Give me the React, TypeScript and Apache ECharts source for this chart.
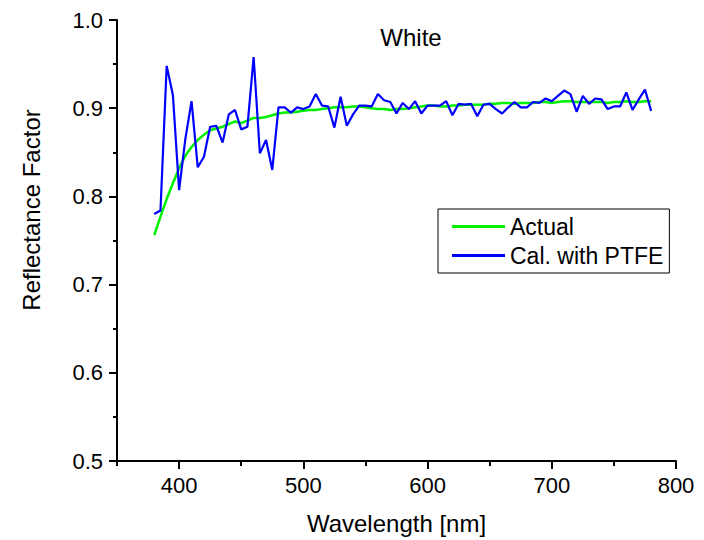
import React, { useEffect, useRef } from 'react';
import * as echarts from 'echarts';

const wavelengths = [
  380, 385, 390, 395, 400, 405, 410, 415, 420, 425, 430, 435, 440, 445, 450, 455, 460, 465, 470, 475,
  480, 485, 490, 495, 500, 505, 510, 515, 520, 525, 530, 535, 540, 545, 550, 555, 560, 565, 570, 575,
  580, 585, 590, 595, 600, 605, 610, 615, 620, 625, 630, 635, 640, 645, 650, 655, 660, 665, 670, 675,
  680, 685, 690, 695, 700, 705, 710, 715, 720, 725, 730, 735, 740, 745, 750, 755, 760, 765, 770, 775,
  780,
];

const actual = [
  0.756, 0.777, 0.797, 0.815, 0.832, 0.846, 0.856, 0.864, 0.870, 0.875, 0.877, 0.879, 0.882, 0.885, 0.883, 0.886, 0.889, 0.889, 0.890, 0.892,
  0.894, 0.895, 0.895, 0.896, 0.897, 0.898, 0.898, 0.899, 0.900, 0.901, 0.901, 0.901, 0.902, 0.902, 0.901, 0.900, 0.899, 0.899, 0.898, 0.899,
  0.899, 0.900, 0.901, 0.902, 0.903, 0.903, 0.902, 0.902, 0.903, 0.903, 0.904, 0.904, 0.904, 0.904, 0.905, 0.905, 0.906, 0.906, 0.905, 0.906,
  0.906, 0.906, 0.907, 0.907, 0.906, 0.907, 0.908, 0.908, 0.907, 0.907, 0.907, 0.907, 0.907, 0.906, 0.907, 0.907, 0.908, 0.907, 0.907, 0.908,
  0.908,
];

const calPTFE = [
  0.780, 0.784, 0.948, 0.915, 0.807, 0.865, 0.908, 0.833, 0.845, 0.879, 0.880, 0.861, 0.893, 0.898, 0.876, 0.879, 0.958, 0.849, 0.864, 0.830,
  0.901, 0.901, 0.895, 0.901, 0.899, 0.902, 0.916, 0.903, 0.902, 0.878, 0.913, 0.880, 0.893, 0.903, 0.903, 0.902, 0.916, 0.909, 0.907, 0.894,
  0.906, 0.899, 0.908, 0.894, 0.903, 0.903, 0.903, 0.908, 0.892, 0.905, 0.904, 0.905, 0.891, 0.904, 0.905, 0.899, 0.894, 0.901, 0.907, 0.901,
  0.901, 0.907, 0.906, 0.911, 0.908, 0.914, 0.920, 0.916, 0.896, 0.914, 0.905, 0.911, 0.910, 0.899, 0.902, 0.902, 0.918, 0.898, 0.910, 0.921,
  0.897,
];

const xMajorTicks = [400, 500, 600, 700, 800];
const seriesNames = ['Actual', 'Cal. with PTFE'];
const chartTitle = 'White';
const xAxisTitle = 'Wavelength [nm]';
const yAxisTitle = 'Reflectance Factor';

const FONT = '"Liberation Sans", Arial, Helvetica, sans-serif';
const GREEN = '#00f000';
const BLUE = '#0000ff';

export default function App() {
  const ref = useRef<HTMLDivElement>(null);

  useEffect(() => {
    if (!ref.current) return;
    const chart = echarts.init(ref.current, null, { renderer: 'svg' });
    const actualData = wavelengths.map((w, i) => [w, actual[i]]);
    const calData = wavelengths.map((w, i) => [w, calPTFE[i]]);

    chart.setOption({
      animation: false,
      backgroundColor: '#ffffff',
      textStyle: { fontFamily: FONT, color: '#000' },
      grid: { left: 117, right: 28, top: 20, bottom: 78, containLabel: false },
      legend: {
        orient: 'vertical',
        left: 438,
        top: 209,
        padding: [6, 6, 6, 14],
        itemGap: 6,
        itemWidth: 53,
        itemHeight: 3,
        icon: 'rect',
        borderColor: '#000',
        borderWidth: 1,
        borderRadius: 0,
        backgroundColor: '#fff',
        textStyle: { fontSize: 23, fontFamily: FONT, color: '#000' },
        data: seriesNames,
      },
      xAxis: [
        {
          type: 'value',
          min: 350,
          max: 800,
          interval: 50,
          position: 'bottom',
          name: xAxisTitle,
          nameLocation: 'middle',
          nameGap: 50,
          nameTextStyle: { fontSize: 24, fontFamily: FONT, color: '#000' },
          axisLine: { show: true, onZero: false, lineStyle: { color: '#000', width: 2 } },
          axisTick: { show: true, length: 5, lineStyle: { color: '#000', width: 2 } },
          axisLabel: {
            fontSize: 22,
            fontFamily: FONT,
            color: '#000',
            margin: 13,
            formatter: (v: number) => (xMajorTicks.includes(v) ? String(v) : ''),
          },
          splitLine: { show: false },
        },
        {
          type: 'value',
          min: 350,
          max: 800,
          position: 'bottom',
          axisLine: { show: false, onZero: false },
          axisTick: { show: true, length: 8, customValues: xMajorTicks, lineStyle: { color: '#000', width: 2 } },
          axisLabel: { show: false },
          splitLine: { show: false },
        },
      ],
      yAxis: {
        type: 'value',
        min: 0.5,
        max: 1.0,
        interval: 0.1,
        axisLine: { show: true, onZero: false, lineStyle: { color: '#000', width: 2 } },
        axisTick: { show: true, length: 8, lineStyle: { color: '#000', width: 2 } },
        minorTick: { show: true, splitNumber: 2, length: 4, lineStyle: { color: '#000', width: 2 } },
        axisLabel: {
          fontSize: 22,
          fontFamily: FONT,
          color: '#000',
          margin: 14,
          formatter: (v: number) => v.toFixed(1),
        },
        splitLine: { show: false },
        minorSplitLine: { show: false },
      },
      graphic: [
        {
          type: 'text',
          x: 411,
          y: 37,
          style: {
            text: chartTitle,
            fontSize: 24,
            fontFamily: FONT,
            fill: '#000',
            align: 'center',
            verticalAlign: 'middle',
          },
        },
        {
          type: 'text',
          x: 31,
          y: 210,
          rotation: Math.PI / 2,
          style: {
            text: yAxisTitle,
            fontSize: 24,
            fontFamily: FONT,
            fill: '#000',
            align: 'center',
            verticalAlign: 'middle',
          },
        },
      ],
      series: [
        {
          name: seriesNames[0],
          type: 'line',
          xAxisIndex: 0,
          data: actualData,
          symbol: 'none',
          showSymbol: false,
          lineStyle: { color: GREEN, width: 2.5 },
          itemStyle: { color: GREEN },
          z: 2,
        },
        {
          name: seriesNames[1],
          type: 'line',
          xAxisIndex: 0,
          data: calData,
          symbol: 'none',
          showSymbol: false,
          lineStyle: { color: BLUE, width: 2.2 },
          itemStyle: { color: BLUE },
          z: 3,
        },
      ],
    });

    return () => chart.dispose();
  }, []);

  return (
    <div
      ref={ref}
      style={{ position: 'fixed', left: 0, top: 0, width: 704, height: 540, background: '#fff' }}
    />
  );
}
